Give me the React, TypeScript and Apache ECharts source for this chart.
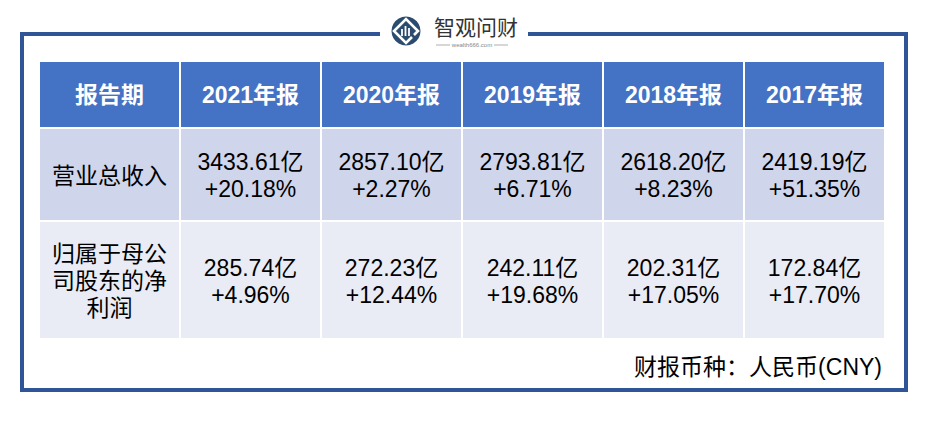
import React, { useEffect, useRef } from "react";
import * as echarts from "echarts";

const headerLabel = "报告期";
const years = ["2021年报", "2020年报", "2019年报", "2018年报", "2017年报"];
const rowLabelLines = [["营业总收入"], ["归属于母公", "司股东的净", "利润"]];
const revenue = ["3433.61亿", "2857.10亿", "2793.81亿", "2618.20亿", "2419.19亿"];
const revenueGrowth = ["+20.18%", "+2.27%", "+6.71%", "+8.23%", "+51.35%"];
const netProfit = ["285.74亿", "272.23亿", "242.11亿", "202.31亿", "172.84亿"];
const netProfitGrowth = ["+4.96%", "+12.44%", "+19.68%", "+17.05%", "+17.70%"];
const footerText = "财报币种：人民币(CNY)";
const logoText = "智观问财";
const logoSub = "wealth666.com";

const FONT = "'Liberation Sans', Arial, 'Noto Sans CJK SC', sans-serif";

export default function App() {
  const ref = useRef<HTMLDivElement>(null);
  useEffect(() => {
    if (!ref.current) return;
    const chart = echarts.init(ref.current, null, { renderer: "svg" });
    const colX0 = 40;
    const colW = 139;
    const colStep = 141;
    const rows = [
      { y: 62, h: 65, fill: "#4472C4" },
      { y: 129, h: 91, fill: "#CFD5EA" },
      { y: 222, h: 116, fill: "#E9EBF5" },
    ];
    const els: any[] = [];
    // frame
    els.push({
      type: "rect",
      shape: { x: 22, y: 34, width: 884, height: 356 },
      style: { fill: "none", stroke: "#2F5597", lineWidth: 4 },
    });
    els.push({
      type: "rect",
      shape: { x: 380, y: 28, width: 148, height: 12 },
      style: { fill: "#ffffff" },
    });
    // cells
    const rowValues = [
      [headerLabel, ...years],
      [rowLabelLines[0].join("\n"), ...revenue.map((v, i) => v + "\n" + revenueGrowth[i])],
      [rowLabelLines[1].join("\n"), ...netProfit.map((v, i) => v + "\n" + netProfitGrowth[i])],
    ];
    rows.forEach((r, ri) => {
      for (let c = 0; c < 6; c++) {
        const x = colX0 + c * colStep;
        els.push({
          type: "rect",
          shape: { x, y: r.y, width: colW, height: r.h },
          style: { fill: r.fill },
        });
        els.push({
          type: "text",
          x: x + colW / 2,
          y: r.y + r.h / 2 + (ri === 0 ? 0 : 1),
          style: {
            text: rowValues[ri][c],
            fill: ri === 0 ? "#ffffff" : "#000000",
            font: `${ri === 0 ? "bold " : ""}23px ${FONT}`,
            align: "center",
            verticalAlign: "middle",
            lineHeight: 27,
          },
        });
      }
    });
    // footer
    els.push({
      type: "text",
      x: 882,
      y: 367,
      style: {
        text: footerText,
        fill: "#000000",
        font: `23px ${FONT}`,
        align: "right",
        verticalAlign: "middle",
      },
    });
    // logo
    els.push({
      type: "circle",
      shape: { cx: 406, cy: 31, r: 14.5 },
      style: { fill: "#2B4C6F" },
    });
    els.push({
      type: "polyline",
      shape: {
        points: [
          [412, 37],
          [406, 43],
          [394, 31],
          [406, 19],
          [418, 31],
          [414, 35],
        ],
      },
      style: { fill: "none", stroke: "#ffffff", lineWidth: 2.6 },
    });
    [
      [402, 29, 7],
      [405.5, 26, 10],
      [409, 28, 8],
    ].forEach(([bx, by, bh]) => {
      els.push({
        type: "rect",
        shape: { x: bx - 0.9, y: by, width: 1.8, height: bh },
        style: { fill: "#ffffff" },
      });
    });
    els.push({
      type: "text",
      x: 476,
      y: 26,
      style: {
        text: logoText,
        fill: "#333333",
        font: `21px 'Noto Sans CJK SC', sans-serif`,
        align: "center",
        verticalAlign: "middle",
      },
    });
    els.push({
      type: "text",
      x: 472,
      y: 45,
      style: {
        text: logoSub,
        fill: "#888888",
        font: `6px ${FONT}`,
        align: "center",
        verticalAlign: "middle",
      },
    });
    els.push({
      type: "line",
      shape: { x1: 436, y1: 45, x2: 450, y2: 45 },
      style: { stroke: "#999999", lineWidth: 0.8 },
    });
    els.push({
      type: "line",
      shape: { x1: 494, y1: 45, x2: 508, y2: 45 },
      style: { stroke: "#999999", lineWidth: 0.8 },
    });
    chart.setOption({
      animation: false,
      backgroundColor: "#ffffff",
      graphic: { elements: els },
    });
    return () => chart.dispose();
  }, []);
  return (
    <div
      ref={ref}
      style={{ position: "fixed", left: 0, top: 0, width: 940, height: 424 }}
    />
  );
}
